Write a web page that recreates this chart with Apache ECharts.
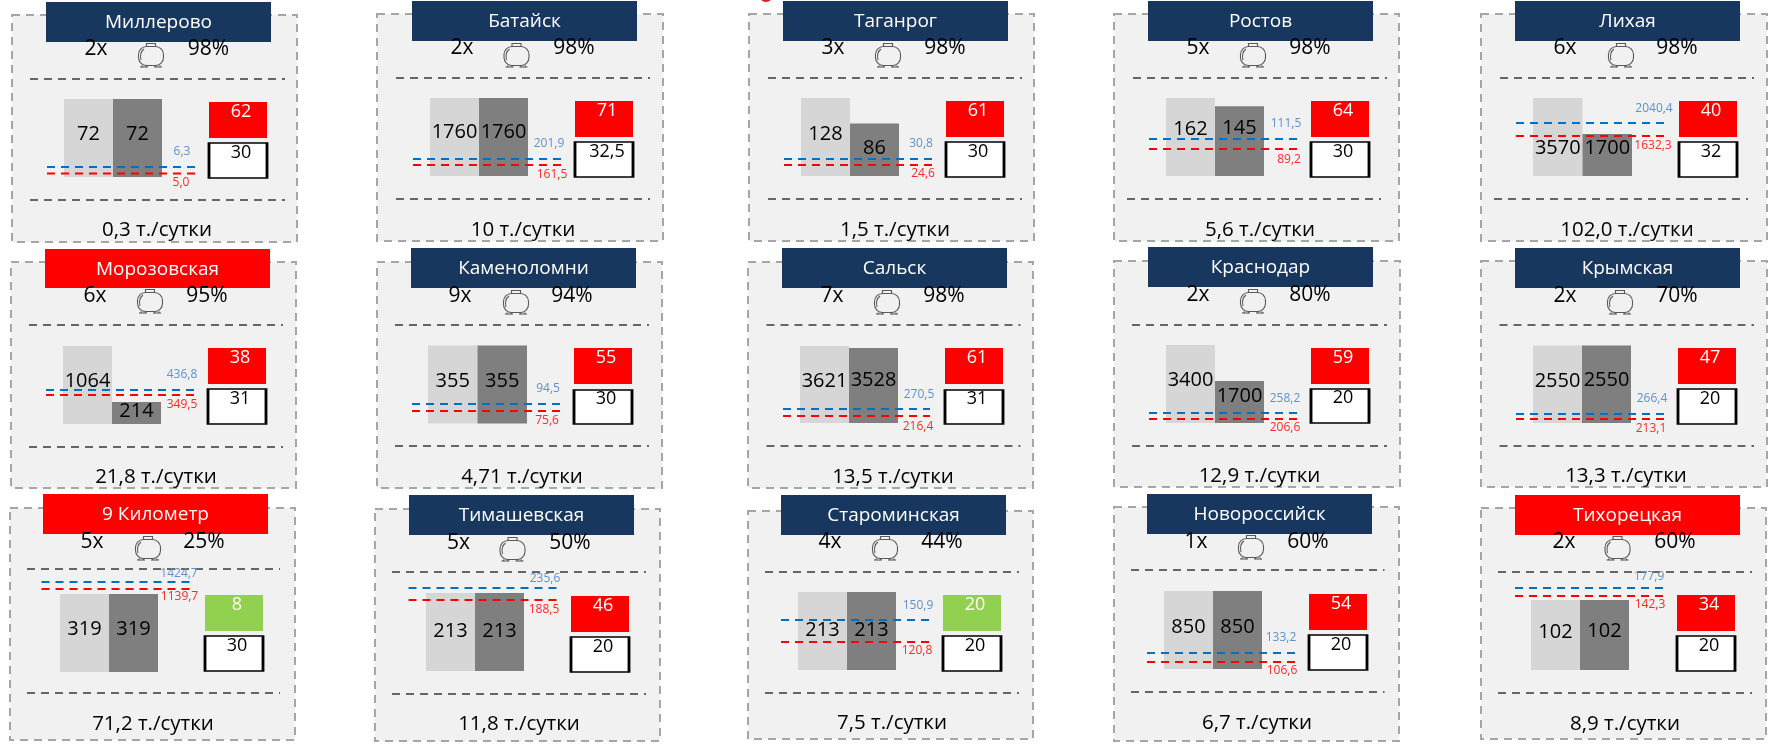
<!DOCTYPE html>
<html><head><meta charset="utf-8">
<style>html,body{margin:0;padding:0;background:#fff}#c{width:1768px;height:745px}</style>
<script src="https://cdn.jsdelivr.net/npm/echarts@6/dist/echarts.min.js"></script>
</head><body><div id="c"></div>
<script>
// ---------- data ----------
const stations = ['Миллерово','Батайск','Таганрог','Ростов','Лихая','Морозовская','Каменоломни','Сальск','Краснодар','Крымская','9 Километр','Тимашевская','Староминская','Новороссийск','Тихорецкая'];
const alertStations = ['Морозовская','9 Километр','Тихорецкая'];
const tankCounts = ['2х','2х','3х','5х','6х','6х','9х','7х','2х','2х','5х','5х','4х','1х','2х'];
const fillLevels = ['98%','98%','98%','98%','98%','95%','94%','98%','80%','70%','25%','50%','44%','60%','60%'];
const capacity = [72,1760,128,162,3570,1064,355,3621,3400,2550,319,213,213,850,102];
const stock = [72,1760,86,145,1700,214,355,3528,1700,2550,319,213,213,850,102];
const upperLimit = [6.3,201.9,30.8,111.5,2040.4,436.8,94.5,270.5,258.2,266.4,1424.7,235.6,150.9,133.2,177.9];
const lowerLimit = [5.0,161.5,24.6,89.2,1632.3,349.5,75.6,216.4,206.6,213.1,1139.7,188.5,120.8,106.6,142.3];
const actualDays = [62,71,61,64,40,38,55,61,59,47,8,46,20,54,34];
const normDays = ['30','32,5','30','30','32','31','30','31','20','20','30','20','20','20','20'];
const normDaysValue = [30,32.5,30,30,32,31,30,31,20,20,30,20,20,20,20];
const consumption = ['0,3','10','1,5','5,6','102,0','21,8','4,71','13,5','12,9','13,3','71,2','11,8','7,5','6,7','8,9'];
const unit = ' т./сутки';

// ---------- layout (pixel placement of each panel, kept apart from the data) ----------
const layout = [
 {f:[12,297,15,242],h:[46,271,2,42],b:[64,162,99,177],bl:[-4,-4],d:[30,285,79,200],k:[209,267,102,138,142,179],l:[47,196,167,173.5],la:[182,152,181,183],t:[96,151,208.5,49,55,157,229]},
 {f:[377,663,14,241],h:[412,637,1,41],b:[430,528,98,176],bl:[-5,-5],d:[396,650,78,199],k:[575,633,101,137,141,178],l:[413,561,159,165],la:[549,144,552,175],t:[462,516.5,574,48,55,523,229]},
 {f:[749,1034,14,241],h:[783,1008,1,41],b:[801,899,98,176],bl:[-3,-1.5],d:[768,1022,78,199],k:[946,1004,101,137,141,178],l:[784,932,159,165],la:[921,144,923,174],t:[833,888,945,48,55,895,229]},
 {f:[1114,1399,14,241],h:[1148,1373,1,41],b:[1166,1264,98,176],bl:[-8,-13],d:[1133,1387,78,199],d2:[1127,1381],k:[1311,1369,101,137,141,178],l:[1149,1298,139,149],la:[1286,124,1289,160],t:[1198,1253,1310,48,55,1260,229]},
 {f:[1481,1767,14,241],h:[1515,1740,1,41],b:[1533,1632,98,176],bl:[11,-7],floor:42,d:[1500,1754,78,199],d2:[1494,1748],k:[1679,1737,101,137,141,178],l:[1516,1665,123,136],la:[1654,109,1653,146],t:[1565,1621,1677,48,55,1627,229]},
 {f:[11,296,262,488],h:[45,270,249,288],b:[63,161,346,424],bl:[-4,-2],floor:22,d:[29,283,325,447],k:[208,266,348,384,388,425],l:[46,194,390,395],la:[182,375,182,405],t:[95,150,207,296,301,156,476]},
 {f:[377,662,262,488],h:[411,636,248,288],b:[428,527,345.5,423.5],bl:[-3.5,-3.5],d:[395,649,325,446],k:[574,632,348,384,389,425],l:[412,560,404,411],la:[548,389,547,421],t:[460,516,572,296,302,522,476]},
 {f:[748,1033,262,488],h:[782,1007,248,288],b:[800,898,346,423],bl:[-3.5,-5.5],d:[766.5,1020.5,325,446],k:[945,1003,348,384,389,425],l:[783,930,409,416],la:[919,395,918,427],t:[832,887,944,296,302,893,476]},
 {f:[1114,1400,261,487],h:[1148,1373,247,287],b:[1166,1264,345,423],bl:[-4,-6],floor:42,d:[1132,1387,325,446],k:[1311,1369,348,384,388,424],l:[1149,1298,413,419],la:[1285,399,1285,428],t:[1198,1253,1310,295,301,1259.5,475]},
 {f:[1481,1767,261,487],h:[1515,1740,248,288],b:[1533,1631,345.5,423],bl:[-3,-4],d:[1499.5,1754,325,446],k:[1678,1736,348,384,388,425],l:[1516,1664,414,419],la:[1652,399,1651,429],t:[1565,1620,1677,296,302,1626,475]},
 {f:[10,295,508,740],h:[43,268,494,534],b:[60,158,594,672],bl:[-4,-4],d:[27,280,569,693],k:[205,263,595,631,635,672],l:[41.5,190,582,589],la:[179,574,179.5,597],t:[92,148,204,542,548,153,723]},
 {f:[375,660,509,741],h:[409,634,495,535],b:[426,524,593,671],bl:[-1,-1],d:[392,646,572,694],k:[571,629,596,632,636,673],l:[408.5,557.5,588,600],la:[545,579,544,610],t:[458.5,512.5,570,543,549,519,723]},
 {f:[748,1033,511,739],h:[781,1006,495,535],b:[798,896,592,670],bl:[-1,-1],d:[765,1019,572,693],k:[943,1001,595,631,635,672],l:[781,930,620,642],la:[918,606,917,651],t:[830,885,942,542,548,892,722]},
 {f:[1114,1399,507,741],h:[1147,1372,494,534],b:[1164,1262,591,669],bl:[-3,-3],d:[1131,1384.5,570,692],k:[1309,1367,594,630,634,671],l:[1147,1296,653,662],la:[1281,638,1282,671],t:[1196,1251,1308,542,547,1257,722]},
 {f:[1481,1766,508,739],h:[1515,1740,495,535],b:[1531,1629,600,670],bl:[-3,-4],d:[1498,1752,572,693],k:[1677,1735,595,631,635,672],l:[1515,1663,588,596],la:[1649,577,1650,605],t:[1564,1617.5,1675,542,548,1625,723]}
];

const FONT = '"Open Sans", sans-serif';
const C = {navy:'#17375e', alert:'#ff0000', panel:'#f1f1f1', frame:'#a6a6a6', rule:'#666666',
  light:'#d6d6d6', dark:'#7f7f7f', blue:'#0070c0', red:'#ff0000', blueText:'#5f91cb', redText:'#ff2a2a', over:'#ff0000', ok:'#92d050'};
const comma = v => String(Number.isInteger(v) ? v.toFixed(1) : v).replace('.', ',');

const grid = [], xAxis = [], yAxis = [], series = [], graphic = [];
function txt(x, y, text, size, fill, z){
  return {type:'text', z:z||6, silent:true, x, y, style:{text, x:0, y:0, font:size+'px '+FONT, fill, align:'center', verticalAlign:'middle'}};
}
function rule(x1, x2, y){
  return {type:'line', z:2, silent:true, shape:{x1, y1:y, x2, y2:y}, style:{stroke:C.rule, lineWidth:2.2, lineDash:[8,6]}};
}
function tank(cx, cy){
  const s = {stroke:'#595959', fill:'none', lineWidth:1.1};
  const seg = (x1,y1,x2,y2) => ({type:'line', z:5, shape:{x1,y1,x2,y2}, style:s});
  return {type:'group', z:5, silent:true, x:cx, y:cy, children:[
    {type:'rect', z:5, shape:{x:-12.5, y:-8.5, width:25, height:19, r:8}, style:s},
    {type:'rect', z:5, shape:{x:-4.5, y:-11.5, width:9, height:3}, style:s},
    {type:'bezierCurve', z:5, shape:{x1:-10, y1:5, cpx1:-11, cpy1:1, cpx2:-11, cpy2:-3, x2:-7, y2:-6}, style:s},
    seg(-9,10.5,-9,12), seg(-4.5,10.5,-4.5,12), seg(-11,12,-3,12),
    seg(4.5,10.5,4.5,12), seg(9,10.5,9,12), seg(3,12,11,12)
  ]};
}

graphic.push({type:'circle', z:1, silent:true, shape:{cx:766, cy:-5, r:7}, style:{fill:'#e02020'}});

stations.forEach((name, i) => {
  const L = layout[i];
  const [fl,fr,ft,fb] = L.f, [hl,hr,ht,hb] = L.h, [bl,br,bt,bb] = L.b;
  const [dl,dr,dt,db] = L.d, d2 = L.d2 || [dl,dr];
  const [kl,kr,k1t,k1b,k2t,k2b] = L.k, [ll,lr,ly1,ly2] = L.l, [la1x,la1y,la2x,la2y] = L.la;
  const [tx1,tx2,tx3,ty,tty,ftx,fty] = L.t;

  // panel furniture
  graphic.push({type:'rect', z:0, silent:true, shape:{x:fl, y:ft, width:fr-fl, height:fb-ft}, style:{fill:C.panel, stroke:C.frame, lineWidth:2, lineDash:[8,6]}});
  graphic.push(rule(dl, dr, dt), rule(d2[0], d2[1], db));
  graphic.push({type:'rect', z:5, silent:true, shape:{x:hl, y:ht, width:hr-hl, height:hb-ht}, style:{fill: alertStations.includes(name) ? C.alert : C.navy}});
  graphic.push(txt((hl+hr)/2, (ht+hb)/2 + 1, name, 19, '#ffffff', 6));
  graphic.push(txt(tx1, ty, tankCounts[i], 21, '#000'));
  graphic.push(tank(tx2, tty));
  graphic.push(txt(tx3, ty, fillLevels[i], 21, '#000'));
  graphic.push(txt(ftx, fty + 1, consumption[i] + unit, 20.5, '#000'));

  // capacity / stock bars
  let g = grid.length;
  grid.push({left:bl, top:bt, width:br-bl, height:bb-bt});
  xAxis.push({gridIndex:g, type:'category', data:['Ёмкость','Остаток'], show:false});
  yAxis.push({gridIndex:g, type:'value', min:0, max:Math.max(capacity[i], stock[i]), show:false});
  const barLabel = dy => ({show:true, position:'inside', offset:[0,dy], color:'#000', fontFamily:FONT, fontSize:20, formatter:'{c}'});
  series.push({type:'bar', xAxisIndex:g, yAxisIndex:g, barWidth:'100%', barMinHeight:L.floor||0, silent:true, z:3, animation:false,
    data:[{value:capacity[i], itemStyle:{color:C.light}, label:barLabel(L.bl[0])},
          {value:stock[i], itemStyle:{color:C.dark}, label:barLabel(L.bl[1])}]});

  // limit lines: the grid's top/bottom are where the two limits sit on this panel's scale
  g = grid.length;
  grid.push({left:ll, top:ly1, width:lr-ll, height:ly2-ly1});
  xAxis.push({gridIndex:g, type:'value', min:0, max:1, show:false});
  yAxis.push({gridIndex:g, type:'value', min:lowerLimit[i], max:upperLimit[i], show:false});
  const limit = (v, col, tcol, lx, ly, yLine) => ({type:'line', xAxisIndex:g, yAxisIndex:g, silent:true, z:4, animation:false, clip:false,
    symbol:'circle', symbolSize:0, showSymbol:true, showAllSymbol:true,
    lineStyle:{color:col, width:2.2, type:[8,6]}, itemStyle:{color:col},
    data:[[0,v],{value:[1,v], label:{show:true, position:'inside', offset:[lx-lr, ly-yLine], color:tcol, fontFamily:FONT, fontSize:12, formatter:comma(v)}}]});
  series.push(limit(upperLimit[i], C.blue, C.blueText, la1x, la1y, ly1));
  series.push(limit(lowerLimit[i], C.red, C.redText, la2x, la2y, ly2));

  // days of stock: actual over norm
  g = grid.length;
  const m1 = (k1t+k1b)/2, m2 = (k2t+k2b)/2, band = m2-m1;
  grid.push({left:kl, top:m1-band/2, width:kr-kl, height:band*2});
  xAxis.push({gridIndex:g, type:'category', data:['сутки'], show:false});
  yAxis.push({gridIndex:g, type:'category', inverse:true, data:['Факт','Норма'], show:false});
  const kLabel = (text, col) => ({show:true, position:'inside', offset:[3,-8], color:col, fontFamily:FONT, fontSize:18, formatter:text});
  series.push({type:'scatter', xAxisIndex:g, yAxisIndex:g, silent:true, z:4, animation:false, symbol:'rect', clip:false,
    itemStyle:{opacity:1},
    data:[{value:[0,0,actualDays[i]], symbolSize:[kr-kl,k1b-k1t], itemStyle:{opacity:1, color: actualDays[i] > normDaysValue[i] ? C.over : C.ok}, label:kLabel(String(actualDays[i]), '#ffffff')},
          {value:[0,1,normDaysValue[i]], symbolSize:[kr-kl,k2b-k2t-2], itemStyle:{opacity:1, color:'#ffffff', borderColor:'#000', borderWidth:2.2}, label:kLabel(normDays[i], '#000')}]});
});

echarts.init(document.getElementById('c'), null, {renderer:'canvas'}).setOption({
  backgroundColor:'#ffffff', animation:false, grid, xAxis, yAxis, series, graphic
});
</script></body></html>
